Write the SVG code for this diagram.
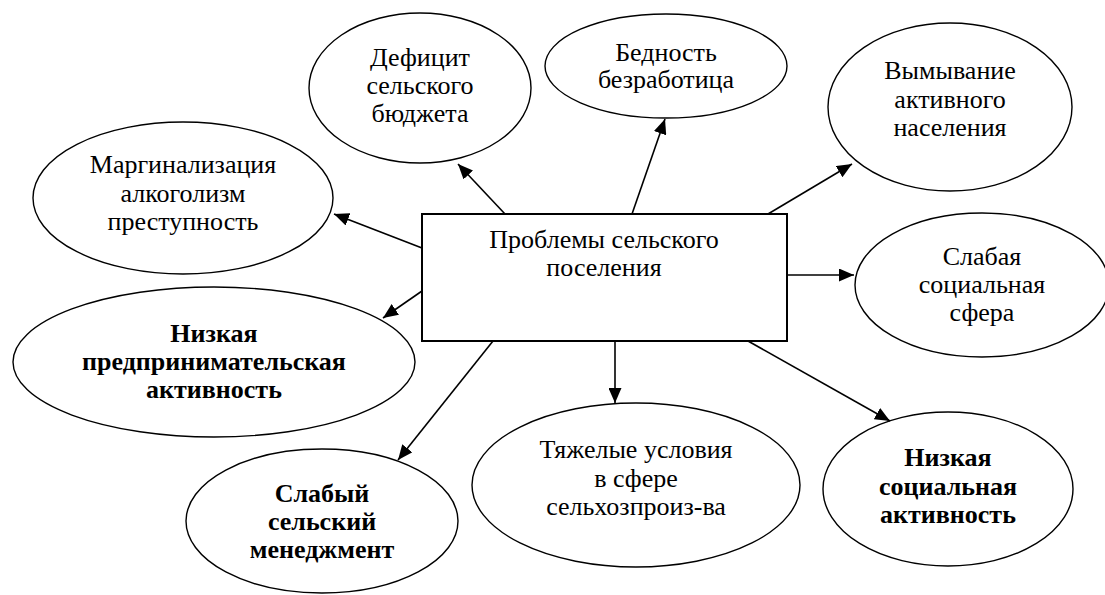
<svg xmlns="http://www.w3.org/2000/svg" width="1105" height="595" viewBox="0 0 1105 595">
<defs>
<style>
.node{fill:#fff;stroke:#000;stroke-width:1.4}
.box{fill:#fff;stroke:#000;stroke-width:2}
.t text{font-size:26px;fill:#000;text-anchor:middle}
.b{font-weight:bold}
.conn line{stroke:#000;stroke-width:1.6;marker-end:url(#arr)}
</style>
<marker id="arr" viewBox="0 0 15 13" refX="15" refY="6.5" markerWidth="15" markerHeight="13" markerUnits="userSpaceOnUse" orient="auto">
<path d="M0,0 L15,6.5 L0,13 z" fill="#000"/>
</marker>
</defs>
<rect width="1105" height="595" fill="#fff"/>
<g class="t" font-family="'Liberation Serif', 'DejaVu Serif', serif">
<g id="n-deficit"><ellipse class="node" cx="420" cy="88" rx="111" ry="75"/>
<text x="420" y="66">Дефицит</text><text x="420" y="94">сельского</text><text x="420" y="122">бюджета</text></g>
<g id="n-bednost"><ellipse class="node" cx="666" cy="66" rx="121" ry="52"/>
<text x="666" y="61">Бедность</text><text x="666" y="88">безработица</text></g>
<g id="n-vymyvanie"><ellipse class="node" cx="950" cy="107" rx="122" ry="84"/>
<text x="950" y="79">Вымывание</text><text x="950" y="108">активного</text><text x="950" y="136">населения</text></g>
<g id="n-marg"><ellipse class="node" cx="183" cy="198" rx="150" ry="76"/>
<text x="183" y="173">Маргинализация</text><text x="183" y="202">алкоголизм</text><text x="183" y="230">преступность</text></g>
<g id="n-slab-soc"><ellipse class="node" cx="982" cy="285" rx="127" ry="72"/>
<text x="982" y="265">Слабая</text><text x="982" y="293">социальная</text><text x="982" y="321">сфера</text></g>
<g id="n-nizk-pred"><ellipse class="node" cx="214" cy="362" rx="201" ry="75"/>
<text class="b" x="214" y="342">Низкая</text><text class="b" x="214" y="370">предпринимательская</text><text class="b" x="214" y="398">активность</text></g>
<g id="n-slab-men"><ellipse class="node" cx="322" cy="521" rx="136" ry="72"/>
<text class="b" x="322" y="502">Слабый</text><text class="b" x="322" y="530">сельский</text><text class="b" x="322" y="558">менеджмент</text></g>
<g id="n-tyazh"><ellipse class="node" cx="636" cy="485" rx="164" ry="82"/>
<text x="636" y="458">Тяжелые условия</text><text x="636" y="487">в сфере</text><text x="636" y="515">сельхозпроиз-ва</text></g>
<g id="n-nizk-soc"><ellipse class="node" cx="948" cy="489" rx="125" ry="77"/>
<text class="b" x="948" y="466">Низкая</text><text class="b" x="948" y="495">социальная</text><text class="b" x="948" y="523">активность</text></g>
<g id="connectors" class="conn">
<line x1="505" y1="214" x2="458" y2="164"/>
<line x1="632" y1="214" x2="665" y2="119"/>
<line x1="768" y1="214" x2="852" y2="164"/>
<line x1="787" y1="275" x2="854" y2="275"/>
<line x1="748" y1="341" x2="890" y2="421"/>
<line x1="615" y1="341" x2="615" y2="403"/>
<line x1="493" y1="341" x2="398" y2="460"/>
<line x1="422" y1="291" x2="383" y2="318"/>
<line x1="422" y1="248" x2="334" y2="214"/>
</g>
<g id="n-center"><rect class="box" x="422" y="214" width="365" height="127"/>
<text x="604" y="248">Проблемы сельского</text><text x="604" y="276">поселения</text></g>
</g>
</svg>
